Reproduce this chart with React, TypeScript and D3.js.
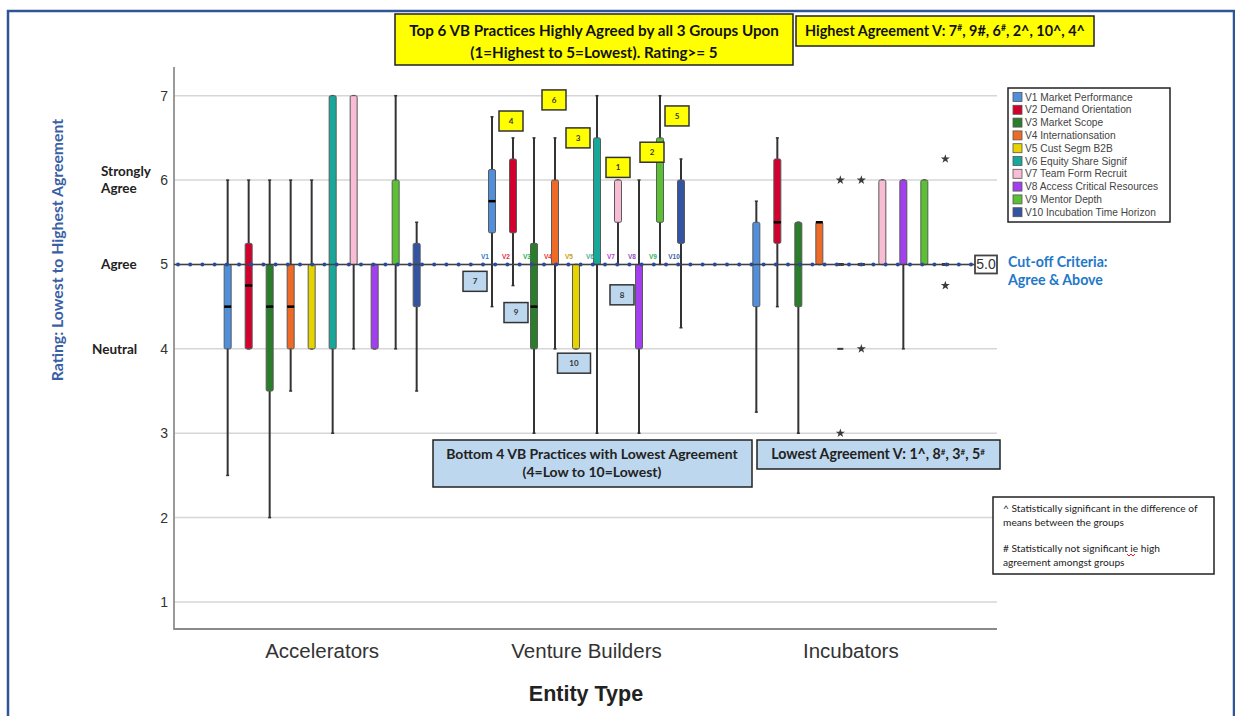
import React, { useEffect } from 'react'
import * as d3 from 'd3'

const groups = ['Accelerators', 'Venture Builders', 'Incubators']
const practiceIds = ['V1', 'V2', 'V3', 'V4', 'V5', 'V6', 'V7', 'V8', 'V9', 'V10']
const practiceNames = [
  'V1 Market Performance',
  'V2 Demand Orientation',
  'V3 Market Scope',
  'V4 Internationsation',
  'V5 Cust Segm B2B',
  'V6 Equity Share Signif',
  'V7 Team Form Recruit',
  'V8 Access Critical Resources',
  'V9 Mentor Depth',
  'V10 Incubation Time Horizon',
]
const practiceColors = ['#4f8fdc', '#d2002c', '#2a7d2a', '#ef6a26', '#e6d400', '#18a89a', '#f8bcd4', '#a240f0', '#5cc034', '#3354a2']
const tagColors = ['#2b78c8', '#e03040', '#20b050', '#e03434', '#c8a020', '#40b0a0', '#c040d0', '#9050c0', '#30b060', '#4060a0']

// whisker low, Q1, median, Q3, whisker high (per practice V1..V10)
const accLow = [2.5, 4, 2, 3.5, 4, 3, 4, 4, 4, 3.5]
const accQ1 = [4, 4, 3.5, 4, 4, 4, 5, 4, 5, 4.5]
const accMed = [4.5, 4.75, 4.5, 4.5, null, null, null, null, null, null]
const accQ3 = [5, 5.25, 5, 5, 5, 7, 7, 5, 6, 5.25]
const accHigh = [6, 6, 6, 6, 6, 7, 7, 5, 7, 5.5]

const vbLow = [4.5, 4.75, 3, 4, 4, 3, 5, 3, 5, 4.25]
const vbQ1 = [5.375, 5.375, 4, 5, 4, 5, 5.5, 4, 5.5, 5.25]
const vbMed = [5.75, null, 4.5, null, null, null, null, null, null, null]
const vbQ3 = [6.125, 6.25, 5.25, 6, 5, 6.5, 6, 5, 6.5, 6]
const vbHigh = [6.75, 6.5, 6.5, 6.5, 5, 7, 6, 6, 7, 6.25]

const incLow = [3.25, 4.5, 3, 5, 5, 5, 5, 4, 5, 5]
const incQ1 = [4.5, 5.25, 4.5, 5, 5, 5, 5, 5, 5, 5]
const incMed = [null, 5.5, null, 5.5, 5, 5, null, null, null, 5]
const incQ3 = [5.5, 6.25, 5.5, 5.5, 5, 5, 6, 6, 6, 5]
const incHigh = [5.75, 6.5, 5.5, 5.5, 5, 5, 6, 6, 6, 5]

const outlierGroup = ['Incubators', 'Incubators', 'Incubators', 'Incubators', 'Incubators', 'Incubators', 'Incubators']
const outlierPractice = ['V5', 'V5', 'V5', 'V6', 'V6', 'V10', 'V10']
const outlierValue = [6, 4, 3, 6, 4, 6.25, 4.75]
const outlierShape = ['star', 'dash', 'star', 'star', 'star', 'star', 'star']

// rank labels in the Venture Builders group
const rankNumbers = ['1', '2', '3', '4', '5', '6', '7', '8', '9', '10']
const rankPractice = ['V7', 'V9', 'V6', 'V2', 'V10', 'V4', 'V1', 'V8', 'V3', 'V5']
const rankValue = [6.15, 6.33, 6.5, 6.7, 6.76, 6.95, 4.8, 4.64, 4.43, 3.83]
const rankShift = [0, -8, -19, -2, -4, -1, -17, -17, -18, -2]

const yTicks = [1, 2, 3, 4, 5, 6, 7]
const scaleWords = [
  { v: 6, lines: ['Strongly', 'Agree'] },
  { v: 5, lines: ['Agree'] },
  { v: 4, lines: ['Neutral'] },
]
const cutoff = 5

const noteLines = [
  '^ Statistically significant in the difference of',
  'means between the groups',
  '# Statistically not significant ie high',
  'agreement amongst groups',
]

const stats = {
  Accelerators: [accLow, accQ1, accMed, accQ3, accHigh],
  'Venture Builders': [vbLow, vbQ1, vbMed, vbQ3, vbHigh],
  Incubators: [incLow, incQ1, incMed, incQ3, incHigh],
}

const calibri = 'Lato, "Open Sans", sans-serif'
const arial = '"Liberation Sans", Arial, sans-serif'

export default function App() {
  useEffect(() => {
    document.body.style.margin = '0'
  }, [])

  const left = 174
  const right = 997
  const top = 67
  const bottom = 629

  const y = d3.scaleLinear().domain([0.68, 7.34]).range([bottom, top])
  const x = d3.scaleBand().domain(groups).range([190, 983])
  const inner = d3.scaleBand().domain(practiceIds).range([-105, 105])
  const cx = (g: string, p: string) => x(g)! + x.bandwidth() / 2 + inner(p)! + inner.bandwidth() / 2
  const bw = 7

  const rows = groups.flatMap((g) =>
    practiceIds.map((p, i) => {
      const s = stats[g]
      return { g, p, i, low: s[0][i], q1: s[1][i], med: s[2][i], q3: s[3][i], high: s[4][i] }
    })
  )

  const star = d3.symbol(d3.symbolStar, 26)()
  const dots = d3.range(left + 4, 975, 12.2)

  return (
    <svg width={1235} height={716} style={{ display: 'block' }}>
      <rect width={1235} height={716} fill="#fff" />
      <path d="M8,716 V11 H1234 V716" fill="none" stroke="#2f5597" strokeWidth={2.5} />

      {/* grid */}
      {yTicks.map((t) => (
        <g key={t}>
          <line x1={left} x2={right} y1={y(t)} y2={y(t)} stroke="#d6d6d6" strokeWidth={1.5} />
          <text x={168} y={y(t)} dy="0.35em" textAnchor="end" fontFamily={arial} fontSize={14} fill="#333">
            {t}
          </text>
        </g>
      ))}
      {scaleWords.map((w) =>
        w.lines.map((l, k) => (
          <text
            key={w.v + l}
            x={w.v === 4 ? 92 : 101}
            y={y(w.v) - (w.lines.length - 1) * 8.5 + k * 17}
            dy="0.35em"
            fontFamily={calibri}
            fontWeight="bold"
            fontSize={13.5}
            fill="#222"
          >
            {l}
          </text>
        ))
      )}
      <text
        transform="translate(57,250) rotate(-90)"
        textAnchor="middle"
        dy="0.35em"
        fontFamily={calibri}
        fontWeight="bold"
        fontSize={15.8}
        fill="#3a5fa5"
      >
        Rating: Lowest to Highest Agreement
      </text>

      {/* axes */}
      <line x1={left} x2={left} y1={top} y2={bottom + 1} stroke="#9a9a9a" strokeWidth={2} />
      <line x1={left} x2={right} y1={bottom} y2={bottom} stroke="#8a8a8a" strokeWidth={2} />
      {groups.map((g) => (
        <text key={g} x={x(g)! + x.bandwidth() / 2} y={651} dy="0.35em" textAnchor="middle" fontFamily={arial} fontSize={20.5} fill="#333">
          {g}
        </text>
      ))}
      <text x={586} y={693} dy="0.35em" textAnchor="middle" fontFamily={arial} fontWeight="bold" fontSize={21.5} fill="#222">
        Entity Type
      </text>

      {/* boxes */}
      {rows.map((r) => {
        const c = cx(r.g, r.p)
        return (
          <g key={r.g + r.p}>
            {r.high > r.low && (
              <>
                <line x1={c} x2={c} y1={y(r.low)} y2={y(r.high)} stroke="#333" strokeWidth={2} />
                <line x1={c - 1.5} x2={c + 1.5} y1={y(r.low)} y2={y(r.low)} stroke="#333" strokeWidth={1.5} />
                <line x1={c - 1.5} x2={c + 1.5} y1={y(r.high)} y2={y(r.high)} stroke="#333" strokeWidth={1.5} />
              </>
            )}
            {r.q3 > r.q1 && (
              <rect
                x={c - bw / 2}
                y={y(r.q3)}
                width={bw}
                height={y(r.q1) - y(r.q3)}
                rx={1.5}
                fill={practiceColors[r.i]}
                stroke="#5a5a5a"
                strokeWidth={1}
              />
            )}
            {r.med != null && (
              <line x1={c - bw / 2} x2={c + bw / 2} y1={y(r.med)} y2={y(r.med)} stroke="#000" strokeWidth={2.5} />
            )}
          </g>
        )
      })}

      {outlierValue.map((v, k) => {
        const c = cx(outlierGroup[k], outlierPractice[k])
        return outlierShape[k] === 'star' ? (
          <path key={k} d={star!} transform={`translate(${c},${y(v)})`} fill="#3a3a3a" />
        ) : (
          <line key={k} x1={c - 3} x2={c + 3} y1={y(v)} y2={y(v)} stroke="#3a3a3a" strokeWidth={2} />
        )
      })}

      {/* cut-off reference line */}
      <line x1={left} x2={975} y1={y(cutoff)} y2={y(cutoff)} stroke="#404040" strokeWidth={1.6} />
      {dots.map((d) => (
        <circle key={d} cx={d} cy={y(cutoff)} r={2} fill="#2c4a96" />
      ))}
      <rect x={975} y={y(cutoff) - 9} width={22} height={18} fill="#fff" stroke="#444" strokeWidth={1.8} />
      <text x={986} y={y(cutoff)} dy="0.36em" textAnchor="middle" fontFamily={arial} fontSize={14} fill="#333">
        {cutoff.toFixed(1)}
      </text>
      <text x={1008} y={y(cutoff) - 2} dy="0.35em" fontFamily={calibri} fontWeight="bold" fontSize={14.2} fill="#1f78c8">
        Cut-off Criteria:
      </text>
      <text x={1008} y={y(cutoff) + 16} dy="0.35em" fontFamily={calibri} fontWeight="bold" fontSize={14.2} fill="#1f78c8">
        {'Agree & Above'}
      </text>

      {/* V tags over the cut-off in Venture Builders */}
      {practiceIds.map((p, i) => (
        <text
          key={p}
          x={cx('Venture Builders', p) - 7}
          y={y(cutoff) - 8}
          dy="0.35em"
          textAnchor="middle"
          fontFamily={arial}
          fontWeight="bold"
          fontSize={6.5}
          fill={tagColors[i]}
        >
          {p}
        </text>
      ))}

      {/* rank boxes */}
      {rankNumbers.map((n, k) => {
        const c = cx('Venture Builders', rankPractice[k]) + rankShift[k]
        const w = n.length > 1 ? 33 : 24
        return (
          <g key={n}>
            <rect
              x={c - w / 2}
              y={y(rankValue[k]) - 10}
              width={w}
              height={20}
              fill={k < 6 ? '#ffff00' : '#bdd7ee'}
              stroke="#333"
              strokeWidth={1.5}
            />
            <text x={c} y={y(rankValue[k])} dy="0.35em" textAnchor="middle" fontFamily={calibri} fontWeight="bold" fontSize={8} fill="#333">
              {n}
            </text>
          </g>
        )
      })}

      {/* legend */}
      <rect x={1008} y={88} width={162} height={134} fill="#fff" stroke="#222" strokeWidth={1.5} />
      {practiceNames.map((name, i) => (
        <g key={name} transform={`translate(1013,${97 + i * 12.8})`}>
          <rect x={0} y={-4.5} width={9} height={9} fill={practiceColors[i]} stroke="#555" strokeWidth={0.8} />
          <text x={12} y={0} dy="0.35em" fontFamily={arial} fontSize={10.2} fill="#444">
            {name}
          </text>
        </g>
      ))}

      {/* top notes */}
      <rect x={395} y={14} width={398} height={51} fill="#ffff00" stroke="#222" strokeWidth={1.5} />
      <text x={594} y={31} dy="0.35em" textAnchor="middle" fontFamily={calibri} fontWeight="bold" fontSize={15.2} fill="#111">
        Top 6 VB Practices Highly Agreed by all 3 Groups Upon
      </text>
      <text x={594} y={53} dy="0.35em" textAnchor="middle" fontFamily={calibri} fontWeight="bold" fontSize={15.2} fill="#111">
        {'(1=Highest to 5=Lowest). Rating>= 5'}
      </text>
      <rect x={796} y={16} width={298} height={30} fill="#ffff00" stroke="#222" strokeWidth={1.5} />
      <text x={945} y={31} dy="0.35em" textAnchor="middle" fontFamily={calibri} fontWeight="bold" fontSize={14.4} fill="#111">
        Highest Agreement V: 7<tspan fontSize={8.5} dy={-5}>#</tspan>
        <tspan dy={5}>, 9#, 6</tspan>
        <tspan fontSize={8.5} dy={-5}>#</tspan>
        <tspan dy={5}>, 2^, 10^, 4^</tspan>
      </text>

      {/* bottom notes */}
      <rect x={433} y={440} width={319} height={47} fill="#bdd7ee" stroke="#222" strokeWidth={1.5} />
      <text x={592} y={454} dy="0.35em" textAnchor="middle" fontFamily={calibri} fontWeight="bold" fontSize={14} fill="#222">
        Bottom 4 VB Practices with Lowest Agreement
      </text>
      <text x={592} y={472} dy="0.35em" textAnchor="middle" fontFamily={calibri} fontWeight="bold" fontSize={14} fill="#222">
        (4=Low to 10=Lowest)
      </text>
      <rect x={757} y={440} width={243} height={29} fill="#bdd7ee" stroke="#222" strokeWidth={1.5} />
      <text x={878} y={454} dy="0.35em" textAnchor="middle" fontFamily={calibri} fontWeight="bold" fontSize={14.2} fill="#222">
        Lowest Agreement V: 1^, 8<tspan fontSize={8} dy={-4}>#</tspan>
        <tspan dy={4}>, 3</tspan>
        <tspan fontSize={8} dy={-4}>#</tspan>
        <tspan dy={4}>, 5</tspan>
        <tspan fontSize={8} dy={-4}>#</tspan>
      </text>

      <rect x={993} y={497} width={221} height={77} fill="#fff" stroke="#222" strokeWidth={1.5} />
      {noteLines.map((l, k) => (
        <text key={k} x={1003} y={[508, 522, 548, 562][k]} dy="0.35em" fontFamily={calibri} fontSize={10.2} fill="#222">
          {l}
        </text>
      ))}
      <path d="M1127,554 l2,2 l2,-2 l2,2 l2,-2" fill="none" stroke="#e02020" strokeWidth={1} />
    </svg>
  )
}
